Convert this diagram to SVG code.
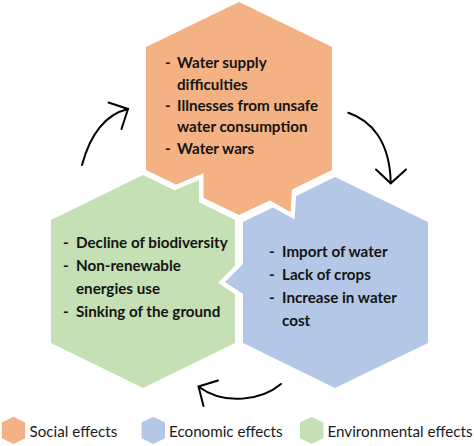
<svg xmlns="http://www.w3.org/2000/svg" width="474" height="446" viewBox="0 0 474 446">
<defs>
<style>
.hex{stroke:#fff;stroke-width:9;paint-order:stroke;stroke-linejoin:miter;stroke-miterlimit:6}
.or{fill:#F4B183}.bl{fill:#B4C7E7}.gr{fill:#C5E0B4}
.t{font-family:Lato,"Liberation Sans",sans-serif;font-size:15.2px;font-weight:bold;fill:#141414}
.lg{font-family:Lato,"Liberation Sans",sans-serif;font-size:15.2px;fill:#1a1a1a}
.arr{fill:none;stroke:#000;stroke-width:2;stroke-linecap:round}
</style>
<path id="orangeShape" d="M239,2 L332,47 L332,170 L292,189.4 L290.5,212 L270,200.5 L239,215 L146,170 L146,47 Z"/>
<clipPath id="orTail"><rect x="250" y="186" width="55" height="45"/></clipPath>
</defs>
<g id="social">
<use href="#orangeShape" class="hex or"/>
<text class="t" x="165" y="68">-</text><text class="t" x="177" y="68">Water supply</text>
<text class="t" x="177" y="89.5">difficulties</text>
<text class="t" x="165" y="111">-</text><text class="t" x="177" y="111">Illnesses from unsafe</text>
<text class="t" x="177" y="132">water consumption</text>
<text class="t" x="165" y="153.5">-</text><text class="t" x="177" y="153.5">Water wars</text>
</g>
<g id="environmental">
<path class="hex gr" d="M143,175 L174.5,190.2 L199,180 L199,202.2 L235,220 L235,343 L143,388 L51,343 L51,220 Z"/>
<text class="t" x="63" y="248">-</text><text class="t" x="76" y="248">Decline of biodiversity</text>
<text class="t" x="63" y="271">-</text><text class="t" x="76" y="271">Non-renewable</text>
<text class="t" x="76" y="294">energies use</text>
<text class="t" x="63" y="317">-</text><text class="t" x="76" y="317">Sinking of the ground</text>
</g>
<g id="economic">
<path class="hex bl" d="M335,177 L428,222 L428,343 L335,388 L243,343 L243,294 L225,282 L243,264 L243,222 Z"/>
<text class="t" x="269" y="256.5">-</text><text class="t" x="282" y="256.5">Import of water</text>
<text class="t" x="269" y="279.5">-</text><text class="t" x="282" y="279.5">Lack of crops</text>
<text class="t" x="269" y="302.5">-</text><text class="t" x="282" y="302.5">Increase in water</text>
<text class="t" x="282" y="325.5">cost</text>
</g>
<g id="social-tail">
<use href="#orangeShape" class="hex or" clip-path="url(#orTail)"/>
</g>
<g id="connectors">
<path class="arr" d="M82,165 Q95,117 128,109"/>
<path class="arr" d="M108.5,102.5 L128,109 L121.5,129"/>
<path class="arr" d="M348.3,112.7 C370,120 390,140 390.7,183"/>
<path class="arr" d="M376,169.5 L390.7,183.3 L406,169.5"/>
<path class="arr" d="M281,384 C262,400 225,406 199,387"/>
<path class="arr" d="M218,380.5 L198.5,386.5 L203.5,406"/>
</g>
<g id="legend">
<g id="legend-social"><path class="or" d="M13.5,416.7 L25.2,422.4 L25.2,438.3 L13.5,444 L1.8,438.3 L1.8,422.4 Z"/><text class="lg" x="29.5" y="436.5">Social effects</text></g>
<g id="legend-economic"><path class="bl" d="M153.3,416.7 L165,422.4 L165,438.3 L153.3,444 L141.6,438.3 L141.6,422.4 Z"/><text class="lg" x="169" y="436.5">Economic effects</text></g>
<g id="legend-environmental"><path class="gr" d="M311.7,416.7 L323.4,422.4 L323.4,438.3 L311.7,444 L300,438.3 L300,422.4 Z"/><text class="lg" x="327.5" y="436.5">Environmental effects</text></g>
</g>
</svg>
